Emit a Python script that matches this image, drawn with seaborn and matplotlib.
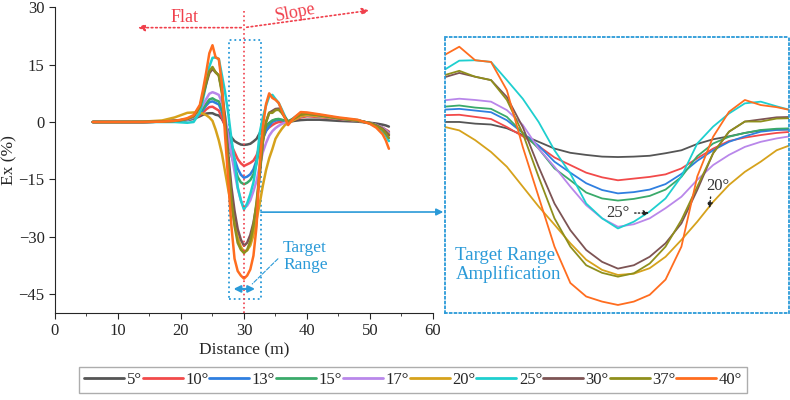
import numpy as np
import pandas as pd
import matplotlib
matplotlib.use("Agg")
import matplotlib.pyplot as plt
import seaborn as sns
from matplotlib.patches import Rectangle, ConnectionPatch

sns.set_style("ticks")
plt.rcParams["font.family"] = ["Liberation Serif", "DejaVu Serif"]
plt.rcParams["axes.unicode_minus"] = True

# ---------- data ----------
distance = [6, 10, 14, 17, 19, 20, 21, 22, 23, 23.5, 24, 24.5,
            25, 25.5, 26, 26.5, 27, 27.5, 28, 28.5, 29, 29.5, 30, 30.5, 31, 31.5,
            32, 32.5, 33, 33.5, 34, 34.5, 35,
            35.5, 36, 36.5, 37, 38, 39, 40, 42, 45, 48, 50, 51, 52, 52.5, 53]

ex_05 = [0, 0, 0, 0.1, 0.2, 0.3, 0.5, 0.8, 1.5, 1.9, 2.2, 2.3,
         2.3, 1.9, 1.7, 0.8, -0.8, -2.4, -4.0, -5.0, -5.5, -5.9, -6.0, -5.9, -5.7, -5.1,
         -4.4, -2.9, -1.8, -1.1, -0.3, 0.3, 0.5,
         0.5, 0.3, 0.1, 0.0, 0.3, 0.5, 0.6, 0.6, 0.3, 0.1, -0.2, -0.4, -0.7, -0.9, -1.2]
ex_10 = [0, 0, 0, 0.1, 0.3, 0.4, 0.6, 1.0, 1.8, 2.5, 3.3, 3.9,
         4.0, 3.5, 3.0, 1.1, -1.1, -3.4, -6.1, -7.9, -9.7, -10.8, -11.5, -11.1, -10.7, -10.1,
         -8.7, -6.3, -4.0, -2.2, -1.4, -0.8, -0.3,
         0, 0, 0, 0, 0.6, 1.2, 1.5, 1.3, 0.8, 0.3, -0.3, -0.8, -1.5, -2.0, -2.5]
ex_13 = [0, 0, 0, 0.1, 0.3, 0.4, 0.6, 1.1, 2.2, 3.2, 4.3, 5.2,
         5.4, 5.0, 4.6, 2.7, -0.3, -3.3, -7.1, -9.7, -12.2, -13.8, -14.6, -14.3, -13.7, -12.4,
         -10.0, -6.9, -4.4, -2.4, -1.1, 0.0, 0.4,
         0.6, 0.5, 0.3, 0.2, 0.8, 1.5, 1.8, 1.5, 0.9, 0.4, -0.3, -0.8, -1.6, -2.2, -2.8]
ex_15 = [0, 0, 0, 0.1, 0.3, 0.4, 0.6, 1.2, 2.5, 3.6, 4.8, 5.9,
         6.2, 5.7, 5.4, 3.5, -0.3, -4.0, -8.7, -11.5, -14.4, -15.8, -16.3, -15.9, -15.2, -13.7,
         -10.7, -5.8, -2.8, -1.2, -0.3, 0.4, 0.7,
         0.8, 0.6, 0.3, 0.2, 0.9, 1.6, 1.9, 1.6, 1.0, 0.4, -0.3, -0.9, -1.8, -2.5, -3.3]
ex_17 = [0, 0, 0, 0.1, 0.3, 0.4, 0.6, 1.3, 3.0, 4.5, 6.0, 7.4,
         7.8, 7.5, 7.1, 5.1, 1.6, -4.0, -8.3, -13.0, -17.4, -20.5, -22.5, -21.9, -20.5, -18.1,
         -15.4, -11.4, -7.9, -5.5, -3.6, -2.4, -1.6,
         -1.0, -0.5, -0.2, 0.0, 0.8, 1.5, 1.8, 1.5, 0.9, 0.4, -0.3, -0.8, -1.6, -2.2, -3.0]
ex_20 = [0, 0, 0.1, 0.4, 1.2, 1.8, 2.4, 2.5, 2.4, 2.2, 1.8, 1.2,
         0.3, -2.0, -4.8, -8.3, -13.0, -17.7, -22.0, -26.4, -30.3, -32.7, -33.9, -33.6, -32.3, -29.6,
         -25.6, -21.3, -16.6, -12.6, -9.5, -7.1, -4.4,
         -3.0, -1.8, -0.8, -0.3, 0.6, 1.5, 1.8, 1.5, 0.9, 0.4, -0.3, -0.9, -1.8, -2.5, -3.2]
ex_25 = [0, 0, 0, 0, 0, -0.1, -0.2, 0.0, 2.5, 6.0, 10.0, 14.5,
         16.8, 16.9, 16.5, 12.2, 7.8, 2.3, -4.4, -9.9, -17.0, -20.5, -22.9, -21.3, -18.9, -15.8,
         -10.6, -2.8, 1.2, 4.3, 6.7, 7.1, 6.0,
         5.0, 3.3, 1.5, 0.0, 1.2, 2.3, 2.3, 1.8, 1.0, 0.5, -0.4, -1.2, -2.5, -3.5, -5.0]
ex_30 = [0, 0, 0, 0.1, 0.3, 0.5, 0.8, 1.5, 4.0, 7.0, 10.0, 12.8,
         13.9, 13.0, 12.2, 8.2, 1.1, -8.3, -17.0, -23.3, -28.0, -30.8, -32.4, -31.6, -29.6, -26.4,
         -21.7, -13.8, -5.1, 0.0, 2.4, 2.9, 3.4,
         3.5, 2.5, 1.2, 0.0, 1.0, 2.0, 2.2, 1.8, 1.0, 0.4, -0.3, -0.9, -1.8, -2.6, -3.5]
ex_37 = [0, 0, 0, 0.1, 0.3, 0.5, 0.8, 1.5, 4.0, 7.2, 10.5, 13.3,
         14.4, 13.0, 12.2, 7.5, -0.4, -10.7, -20.5, -27.2, -31.6, -33.4, -34.3, -33.5, -31.2, -27.2,
         -20.9, -13.0, -5.1, 0.0, 2.4, 2.4, 3.1,
         3.2, 2.4, 1.2, 0.0, 1.0, 2.0, 2.2, 1.8, 1.0, 0.4, -0.3, -1.0, -2.0, -3.0, -4.2]
ex_40 = [0, 0, 0, 0.1, 0.3, 0.6, 1.0, 1.8, 4.5, 8.5, 13.0, 18.0,
         20.1, 16.9, 16.5, 9.8, -3.6, -15.4, -27.2, -35.8, -39.0, -40.2, -41.0, -40.2, -38.6, -35.0,
         -27.2, -10.6, -1.2, 4.7, 7.5, 6.3, 5.8,
         5.0, 3.0, 1.0, -0.8, 1.2, 2.6, 2.5, 2.0, 1.2, 0.6, -0.5, -1.5, -3.2, -4.8, -7.0]

angles = ["5°", "10°", "13°", "15°", "17°", "20°", "25°", "30°", "37°", "40°"]
palette = ["#555555", "#f24a4a", "#2f7fe0", "#3aaa6a", "#b987ea",
           "#d6a21c", "#1ecfcf", "#7d5454", "#8f8f1c", "#ff6d1f"]

series = [ex_05, ex_10, ex_13, ex_15, ex_17, ex_20, ex_25, ex_30, ex_37, ex_40]
df = pd.DataFrame({
    "Distance": distance * len(series),
    "Ex": [v for s in series for v in s],
    "Angle": np.repeat(angles, len(distance)),
})

red = "#f0404c"
blue = "#2a9ad8"

# ---------- figure ----------
fig = plt.figure(figsize=(7.9, 4.0), dpi=100)
ax = fig.add_axes([0.0696, 0.2175, 0.4785, 0.764])
ax_in = fig.add_axes([0.5633, 0.2175, 0.4354, 0.69])

sns.lineplot(data=df, x="Distance", y="Ex", hue="Angle", hue_order=angles,
             palette=palette, estimator=None, sort=False, lw=1.8, ax=ax)
sns.lineplot(data=df, x="Distance", y="Ex", hue="Angle", hue_order=angles,
             palette=palette, estimator=None, sort=False, lw=1.3, ax=ax_in, legend=False)

# main axes
ax.set_xlim(0, 60)
ax.set_ylim(-50, 30)
ax.set_xticks(range(0, 61, 10))
ax.set_xticks(range(5, 60, 10), minor=True)
ax.set_yticks([30, 15, 0, -15, -30, -45])
ax.tick_params(labelsize=12, length=4, direction="out")
ax.tick_params(which="minor", length=2.5)
ax.set_xlabel("Distance (m)", fontsize=12.5, labelpad=2)
ax.set_ylabel("Ex (%)", fontsize=12.5)
ax.yaxis.set_label_coords(-0.10, 0.5)
sns.despine(ax=ax)

# flat / slope markers
ax.axvline(30, ymin=0, ymax=0.99, color=red, ls=":", lw=1.2)
ax.annotate("", xy=(12.7, 24.7), xytext=(30, 24.7),
            arrowprops=dict(arrowstyle="-|>", ls=":", color=red, lw=1.2, mutation_scale=10))
ax.annotate("", xy=(50.3, 29.3), xytext=(30, 24.7),
            arrowprops=dict(arrowstyle="-|>", ls=":", color=red, lw=1.2, mutation_scale=10))
ax.text(20.6, 27.3, "Flat", color=red, fontsize=13, ha="center", va="center")
ax.text(38.1, 28.6, "Slope", color=red, fontsize=13, ha="center", va="center", rotation=11)

# target range box
ax.add_patch(Rectangle((27.6, -46.3), 5.1, 67.8, fill=False, ls=":", ec=blue, lw=1.3))
ax.annotate("", xy=(27.9, -43.7), xytext=(32.2, -43.7),
            arrowprops=dict(arrowstyle="<|-|>", color=blue, lw=1.5, mutation_scale=10))
ax.annotate("", xy=(31.0, -42.9), xytext=(35.7, -35.3),
            arrowprops=dict(arrowstyle="-", ls="--", color=blue, lw=0.8))
ax.text(36.2, -35.3, "Target\nRange", color=blue, fontsize=12.5, ha="left", va="center",
        linespacing=1.1)

# inset
ax_in.set_xlim(24.55, 35.39)
ax_in.set_ylim(-42.9, 22.4)
ax_in.set_xticks([])
ax_in.set_yticks([])
ax_in.set_xlabel("")
ax_in.set_ylabel("")
for s in ax_in.spines.values():
    s.set_linestyle(":")
    s.set_edgecolor(blue)
    s.set_linewidth(1.3)
ax_in.text(0.03, 0.175, "Target Range\nAmplification", transform=ax_in.transAxes,
           color=blue, fontsize=13.5, ha="left", va="center", linespacing=1.1)
ax_in.text(30.0, -19.25, "25°", fontsize=12, ha="center", va="center", color="#333333")
ax_in.annotate("", xy=(31.07, -19.25), xytext=(30.44, -19.25),
               arrowprops=dict(arrowstyle="-|>", ls=":", color="#222222", lw=1.0, mutation_scale=8))
ax_in.text(33.15, -12.9, "20°", fontsize=12, ha="center", va="center", color="#333333")
ax_in.annotate("", xy=(32.87, -18.8), xytext=(32.93, -14.8),
               arrowprops=dict(arrowstyle="-|>", ls=":", color="#222222", lw=1.0, mutation_scale=8))

con = ConnectionPatch(xyA=(32.7, -23.6), coordsA=ax.transData,
                      xyB=(-0.005, 0.366), coordsB=ax_in.transAxes,
                      arrowstyle="-|>", color=blue, lw=1.2, mutation_scale=10)
fig.add_artist(con)

# legend
handles, labels = ax.get_legend_handles_labels()
ax.get_legend().remove()
for h in handles:
    h.set_linewidth(2.0)
leg = fig.legend(handles, labels, loc="center", bbox_to_anchor=(0.523, 0.051), ncol=10,
                 fontsize=12, frameon=True, fancybox=False, edgecolor="#999999",
                 handlelength=2.4, handletextpad=0.15, columnspacing=0.05, borderpad=0.3)
leg.get_frame().set_linewidth(1.0)

fig.savefig("out.png", dpi=100)
